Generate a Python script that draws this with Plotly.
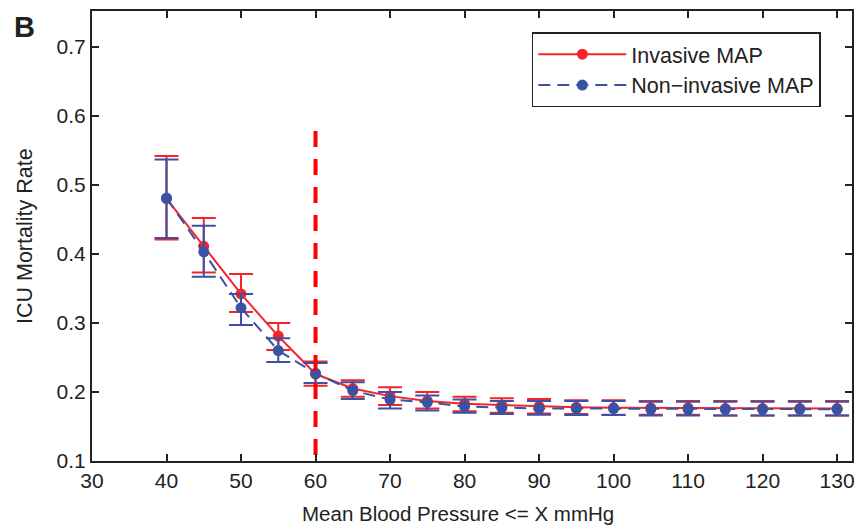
import plotly.graph_objects as go

# Mean blood pressure thresholds (mmHg)
bp_threshold = [40, 45, 50, 55, 60, 65, 70, 75, 80, 85, 90, 95, 100, 105, 110, 115, 120, 125, 130]

# ICU mortality rate, invasive MAP, with lower / upper confidence bounds
invasive_rate = [0.480, 0.411, 0.342, 0.281, 0.226, 0.205, 0.194, 0.187, 0.183, 0.181, 0.179,
                 0.178, 0.177, 0.177, 0.177, 0.176, 0.176, 0.176, 0.176]
invasive_lo = [0.421, 0.373, 0.316, 0.261, 0.209, 0.193, 0.181, 0.176, 0.172, 0.170, 0.169,
               0.168, 0.167, 0.167, 0.167, 0.166, 0.166, 0.166, 0.166]
invasive_hi = [0.542, 0.452, 0.371, 0.300, 0.244, 0.217, 0.207, 0.200, 0.193, 0.191, 0.190,
               0.188, 0.188, 0.187, 0.187, 0.187, 0.187, 0.187, 0.187]

# ICU mortality rate, non-invasive MAP, with lower / upper confidence bounds
noninvasive_rate = [0.481, 0.403, 0.322, 0.260, 0.227, 0.202, 0.189, 0.185, 0.179, 0.177, 0.176,
                    0.176, 0.176, 0.175, 0.175, 0.175, 0.175, 0.175, 0.175]
noninvasive_lo = [0.423, 0.367, 0.297, 0.2435, 0.213, 0.190, 0.176, 0.173, 0.170, 0.168, 0.167,
                  0.1665, 0.1665, 0.166, 0.166, 0.166, 0.166, 0.166, 0.166]
noninvasive_hi = [0.537, 0.441, 0.342, 0.278, 0.242, 0.214, 0.200, 0.195, 0.189, 0.187, 0.187,
                  0.187, 0.187, 0.186, 0.186, 0.186, 0.186, 0.186, 0.186]

# Reference cut-off
cutoff_x = 60
cutoff_top = 0.578

x_ticks = [30, 40, 50, 60, 70, 80, 90, 100, 110, 120, 130]
y_ticks = [0.1, 0.2, 0.3, 0.4, 0.5, 0.6, 0.7]

RED = "#F5242A"
BLUE = "#3A52A3"
FONT = "Liberation Sans, Arial, Helvetica, sans-serif"
INK = "#222222"


def err(vals, lo, hi):
    return dict(
        type="data",
        symmetric=False,
        array=[h - v for v, h in zip(vals, hi)],
        arrayminus=[v - l for v, l in zip(vals, lo)],
        width=12,
        thickness=2,
    )


fig = go.Figure()

fig.add_trace(go.Scatter(
    x=bp_threshold, y=invasive_rate, name="Invasive MAP", mode="lines+markers",
    line=dict(color=RED, width=2),
    marker=dict(color=RED, size=11),
    error_y={**err(invasive_rate, invasive_lo, invasive_hi), "color": RED},
))

fig.add_trace(go.Scatter(
    x=bp_threshold, y=noninvasive_rate, name="Non\u2212invasive MAP", mode="lines+markers",
    line=dict(color=BLUE, width=2, dash="12px,7px"),
    marker=dict(color=BLUE, size=11),
    error_y={**err(noninvasive_rate, noninvasive_lo, noninvasive_hi), "color": BLUE},
))

# vertical dashed cut-off line, drawn top-down so the pattern starts at the top
fig.add_trace(go.Scatter(
    x=[cutoff_x, cutoff_x], y=[cutoff_top, 0.1], mode="lines", showlegend=False,
    line=dict(color="#FF0000", width=4, dash="16px,12px"), hoverinfo="skip",
))

axis_common = dict(
    showline=True, linecolor=INK, linewidth=2, mirror="ticks",
    ticks="inside", ticklen=7, tickwidth=1.5, tickcolor=INK,
    showgrid=False, zeroline=False,
    tickfont=dict(family=FONT, size=21, color=INK),
)

fig.update_xaxes(range=[30, 132], tickvals=x_ticks, **axis_common)
fig.update_yaxes(range=[0.1, 0.752], tickvals=y_ticks, tickformat=".1f", **axis_common)

fig.update_layout(
    width=860, height=528,
    margin=dict(l=92, r=5, t=11, b=67),
    paper_bgcolor="white", plot_bgcolor="white",
    font=dict(family=FONT, color=INK),
    showlegend=True,
    legend=dict(
        x=0.959, y=0.953, xanchor="right", yanchor="top",
        bgcolor="white", bordercolor=INK, borderwidth=1.5,
        font=dict(family=FONT, size=21.5, color=INK),
        itemwidth=88, tracegroupgap=0,
    ),
    annotations=[
        dict(text="Mean Blood Pressure <= X mmHg", xref="paper", yref="paper",
             x=0.481, y=0, yshift=-52, xanchor="center", yanchor="middle", showarrow=False,
             font=dict(family=FONT, size=20.5, color=INK)),
        dict(text="ICU Mortality Rate", xref="paper", yref="paper", textangle=-90,
             x=0, xshift=-67, y=0.5, xanchor="center", yanchor="middle", showarrow=False,
             font=dict(family=FONT, size=21.5, color=INK)),
        dict(text="<b>B</b>", xref="paper", yref="paper",
             x=0, xshift=-80, y=1, yshift=2, xanchor="left", yanchor="top", showarrow=False,
             font=dict(family=FONT, size=29, color=INK)),
    ],
)

fig.write_html("out.html")
